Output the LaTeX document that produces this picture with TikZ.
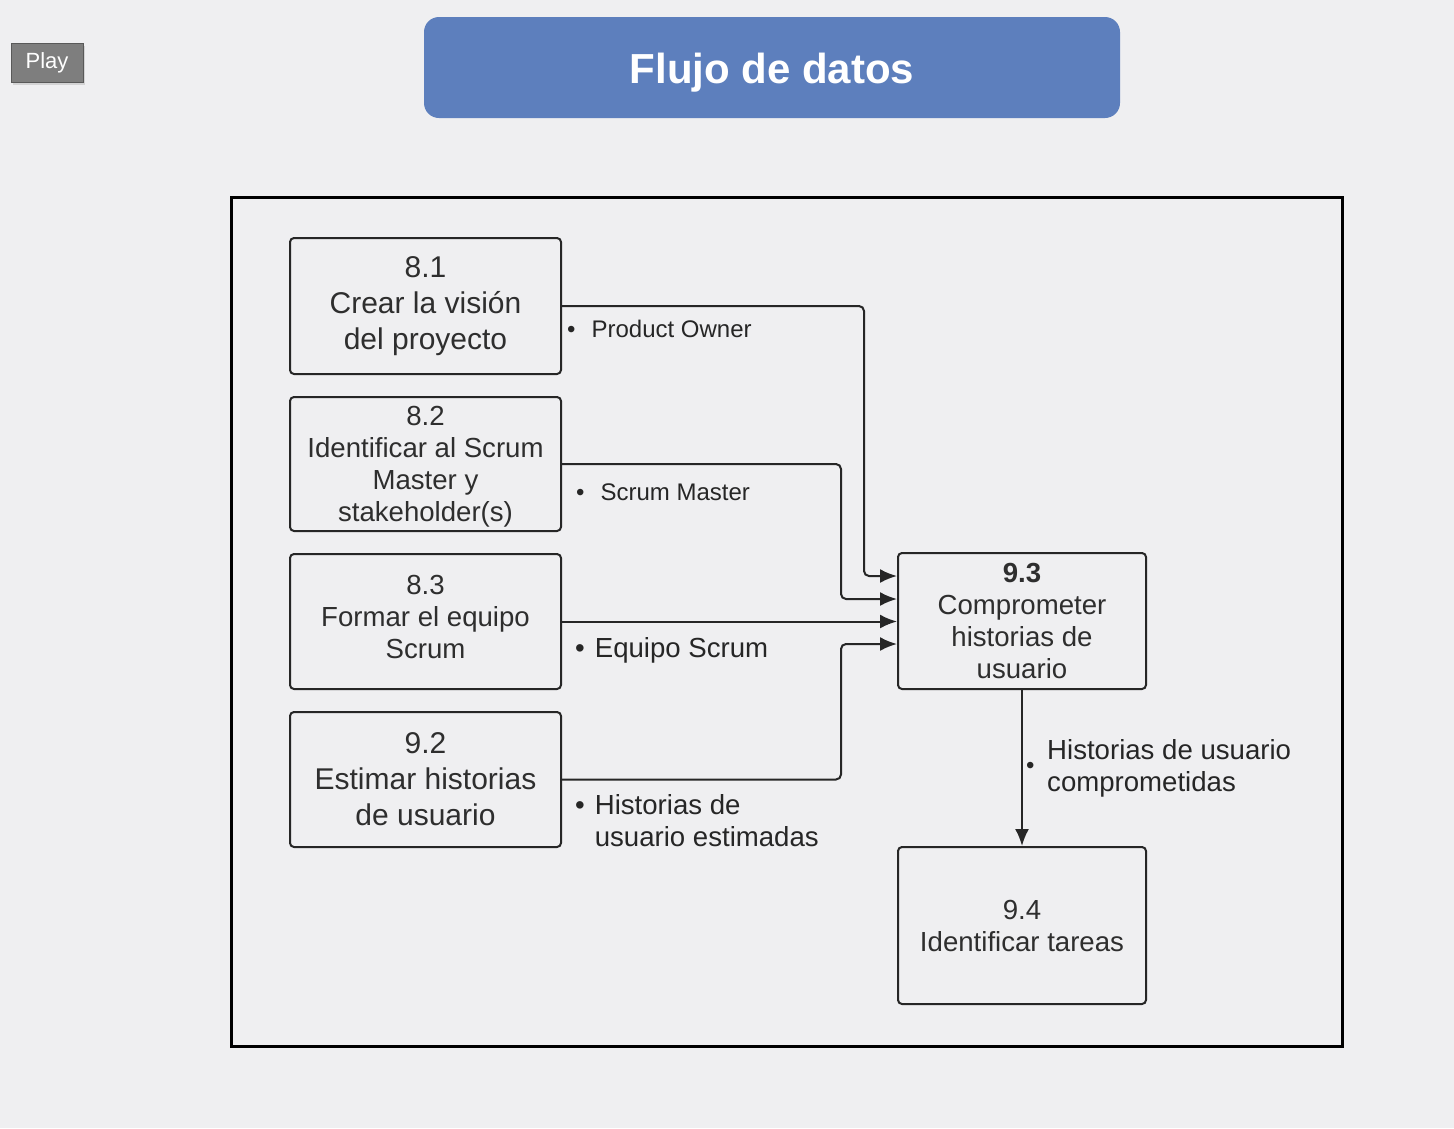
\documentclass[tikz,border=0pt]{standalone}
\usepackage{fontspec}
\setmainfont{Liberation Sans}
\usetikzlibrary{arrows.meta,shadows}
\definecolor{bg}{HTML}{EFEFF1}
\definecolor{titleblue}{HTML}{5D7FBD}
\definecolor{boxline}{HTML}{262626}
\definecolor{playgray}{HTML}{7E7E7E}
\begin{document}
\begin{tikzpicture}[x=1pt,y=-1pt,
  proc/.style={draw=boxline, line width=2pt, rounded corners=4pt, align=center,
    inner sep=0pt, text=black!82},
  flow/.style={draw=boxline, line width=2pt, rounded corners=5pt,
    -{Latex[length=17pt,width=14pt]}},
  lbl/.style={anchor=west, inner sep=0pt, align=left, text=black!85},
  big/.style={font=\fontsize{30}{36}\selectfont},
  mid/.style={font=\fontsize{27.6}{32}\selectfont},
  small/.style={font=\fontsize{24}{28}\selectfont}]
\fill[bg] (0,0) rectangle (1454,1128);
\useasboundingbox (0,0) rectangle (1454,1128);

% Play button
\node[fill=playgray, draw=gray!70!black, line width=0.6pt, minimum width=72, minimum height=39,
  inner sep=0pt, text=white, font=\fontsize{22}{26}\selectfont,
  drop shadow={opacity=0.25, shadow xshift=2pt, shadow yshift=-3pt}] (play) at (47,62.5) {Play};

% Title
\node[fill=titleblue, rounded corners=15pt, minimum width=696, minimum height=101, inner sep=0pt,
  text=white, font=\bfseries\fontsize{42}{48}\selectfont] (title) at (772,67.5) {\raisebox{-16pt}[0pt][0pt]{Flujo de datos}};

% Outer frame
\draw[line width=3pt, black] (231,197) rectangle (1342,1046);

% Process boxes
\node[proc, big, minimum width=271, minimum height=136] (n81) at (425.5,306) {8.1\\Crear la visión\\del proyecto};
\node[proc, mid, minimum width=271, minimum height=134, text depth=-12pt] (n82) at (425.5,464) {8.2\\Identificar al Scrum\\Master y\\stakeholder(s)};
\node[proc, mid, minimum width=271, minimum height=135, text depth=9pt] (n83) at (425.5,621.5) {8.3\\Formar el equipo\\Scrum};
\node[proc, big, minimum width=271, minimum height=135] (n92) at (425.5,779.5) {9.2\\Estimar historias\\de usuario};
\node[proc, mid, minimum width=248, minimum height=136, text depth=-6pt] (n93) at (1022,621) {\textbf{9.3}\\Comprometer\\historias de\\usuario};
\node[proc, mid, minimum width=248, minimum height=157] (n94) at (1022,925.5) {9.4\\Identificar tareas};

% Flows
\draw[flow] (n81.east) -| (864,576) -- ([yshift=45pt]n93.west);
\draw[flow] (n82.east) -| (841,599) -- ([yshift=22pt]n93.west);
\draw[flow] (n83.east) -- (n83.east -| n93.west);
\draw[flow] (n92.east) -| (841,644) -- ([yshift=-23pt]n93.west);
\draw[flow] (n93.south) -- (n94.north);

% Flow labels
\node[lbl, small] (lpo) at (567,329) {\textbullet\hspace{16pt}Product Owner};
\node[lbl, small] (lsm) at (576,492) {\textbullet\hspace{16pt}Scrum Master};
\node[lbl, mid] (les) at (575,650) {\textbullet\hspace{10pt}Equipo Scrum};
\node[lbl, mid] (lhe) at (575,821) {\textbullet\hspace{10pt}Historias de\\\hspace*{19.6pt}usuario estimadas};
\node[lbl, small] (bhc) at (1026,768) {\textbullet};
\node[lbl, mid] (lhc) at (1047,768) {Historias de usuario\\comprometidas};
\end{tikzpicture}
\end{document}
